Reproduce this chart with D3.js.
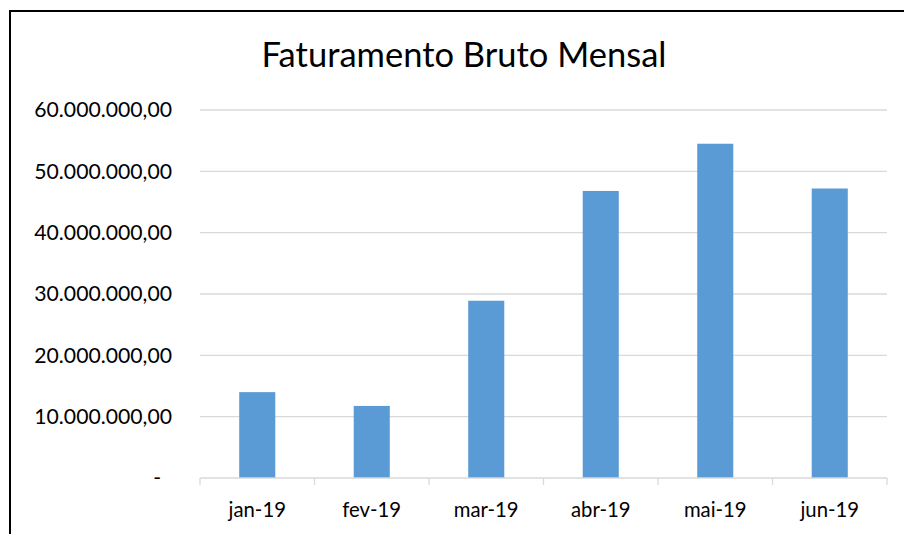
<!DOCTYPE html>
<html>
<head>
<meta charset="utf-8">
<script src="https://cdn.jsdelivr.net/npm/d3@7"></script>
<style>
  html, body { margin: 0; padding: 0; background: #fff; }
  svg { display: block; }
  text { font-family: "Lato", "Open Sans", sans-serif; fill: #000; }
</style>
</head>
<body>
<svg id="chart" width="904" height="534"></svg>
<script>
const categories = ["jan-19", "fev-19", "mar-19", "abr-19", "mai-19", "jun-19"];
const values = [14000000, 11750000, 28900000, 46800000, 54500000, 47200000];
const yTicks = [0, 10000000, 20000000, 30000000, 40000000, 50000000, 60000000];
const title = "Faturamento Bruto Mensal";

const svg = d3.select("#chart");
const plot = { left: 200, right: 887, top: 110, bottom: 478 };

// outer border (extends beyond the visible frame on right/bottom)
svg.append("rect")
  .attr("x", 10).attr("y", 11)
  .attr("width", 1000).attr("height", 1000)
  .attr("fill", "#fff").attr("stroke", "#000").attr("stroke-width", 2);

const x = d3.scaleBand().domain(categories).range([plot.left, plot.right])
  .paddingInner(0.685).paddingOuter(0.3425);
const xOuter = d3.scaleBand().domain(categories).range([plot.left, plot.right]);
const y = d3.scaleLinear().domain([0, 60000000]).range([plot.bottom, plot.top]);

function fmt(v) {
  if (v === 0) return "-";
  const s = d3.format(",.2f")(v);
  return s.replace(/,/g, "#").replace(".", ",").replace(/#/g, ".");
}

// gridlines
svg.append("g").selectAll("line").data(yTicks.filter(d => d > 0)).join("line")
  .attr("x1", plot.left).attr("x2", plot.right)
  .attr("y1", d => y(d)).attr("y2", d => y(d))
  .attr("stroke", "#d9d9d9").attr("stroke-width", 1.3);

// bars
svg.append("g").selectAll("rect").data(values).join("rect")
  .attr("x", (d, i) => x(categories[i]))
  .attr("width", x.bandwidth())
  .attr("y", d => y(d))
  .attr("height", d => y(0) - y(d))
  .attr("fill", "#5b9bd5");

// x axis line and ticks
const xAxisG = svg.append("g");
xAxisG.append("line")
  .attr("x1", plot.left).attr("x2", plot.right)
  .attr("y1", plot.bottom).attr("y2", plot.bottom)
  .attr("stroke", "#d9d9d9").attr("stroke-width", 1.3);
const bounds = categories.map(c => xOuter(c)).concat([plot.right]);
xAxisG.selectAll("line.tick").data(bounds).join("line").attr("class", "tick")
  .attr("x1", d => d).attr("x2", d => d)
  .attr("y1", plot.bottom).attr("y2", plot.bottom + 7)
  .attr("stroke", "#d9d9d9").attr("stroke-width", 1.3);

xAxisG.selectAll("text").data(categories).join("text")
  .attr("x", d => xOuter(d) + xOuter.bandwidth() / 2)
  .attr("y", 517)
  .attr("text-anchor", "middle")
  .style("font-size", "20.3px")
  .text(d => d);

// y labels
svg.append("g").selectAll("text").data(yTicks).join("text")
  .attr("x", d => d === 0 ? 161 : 172)
  .attr("y", d => y(d))
  .attr("dy", "0.35em")
  .attr("text-anchor", "end")
  .style("font-size", "21.2px")
  .text(d => fmt(d));

// title
svg.append("text")
  .attr("x", 464).attr("y", 67)
  .attr("text-anchor", "middle")
  .style("font-size", "34.5px")
  .text(title);
</script>
</body>
</html>
